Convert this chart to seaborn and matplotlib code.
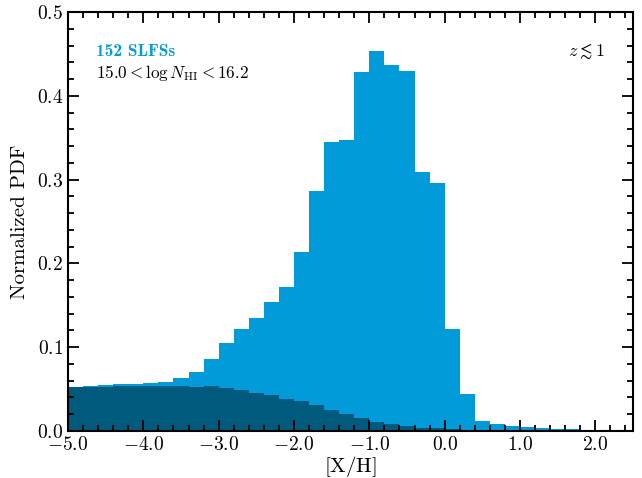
import numpy as np
import pandas as pd
import matplotlib
matplotlib.use("Agg")
import matplotlib.pyplot as plt
import seaborn as sns
from matplotlib.ticker import MultipleLocator, FixedLocator

# bin edges (width 0.2) from -5.0
bin_left = [round(-5.0 + 0.2 * i, 1) for i in range(38)]

# light blue: all SLFS metallicity PDF
pdf_all = [0.053, 0.054, 0.055, 0.056, 0.056, 0.057, 0.059, 0.063, 0.070, 0.086,
           0.105, 0.122, 0.135, 0.154, 0.172, 0.214, 0.286, 0.345, 0.347, 0.428,
           0.454, 0.437, 0.429, 0.309, 0.296, 0.122, 0.044, 0.012, 0.008, 0.006,
           0.0044, 0.0032, 0.0024, 0.0018, 0.0012, 0.0008, 0.0005, 0.0003]

# dark: prior / second distribution
pdf_dark = [0.052, 0.053, 0.053, 0.0533, 0.0537, 0.0537, 0.0537, 0.054, 0.053, 0.0537,
            0.0513, 0.049, 0.045, 0.043, 0.038, 0.0354, 0.031, 0.025, 0.020, 0.015,
            0.011, 0.008, 0.006, 0.004, 0.003, 0.002, 0.001, 0.0005, 0.0003, 0.0002,
            0.0001, 0.0, 0.0, 0.0, 0.0, 0.0, 0.0, 0.0]

xticks = [-5.0, -4.0, -3.0, -2.0, -1.0, 0.0, 1.0, 2.0]
yticks = [0.0, 0.1, 0.2, 0.3, 0.4, 0.5]

plt.rcParams['mathtext.fontset'] = 'cm'
plt.rcParams['font.family'] = 'serif'
plt.rcParams['font.serif'] = ['cmr10', 'DejaVu Serif']
plt.rcParams['axes.unicode_minus'] = False
plt.rcParams['axes.formatter.use_mathtext'] = True

fig = plt.figure(figsize=(6.42, 4.78), dpi=100)
ax = fig.add_axes([68/642, 47/478, 565/642, 419/478])

centers = np.round(np.array(bin_left) + 0.1, 2)
df = pd.DataFrame({'x': centers, 'all': pdf_all, 'dark': pdf_dark})

blue = '#009BD8'
dark = '#005A7E'
nb = len(bin_left)
brange = (bin_left[0], bin_left[-1] + 0.2)
sns.histplot(data=df, x='x', weights='all', bins=nb, binrange=brange, stat='count',
             element='bars', fill=True, color=blue, alpha=1, linewidth=0, ax=ax)
sns.histplot(data=df, x='x', weights='dark', bins=nb, binrange=brange, stat='count',
             element='bars', fill=True, color=dark, alpha=1, linewidth=0, ax=ax)

ax.set_xlim(-5.0, 2.5)
ax.set_ylim(0, 0.5)
ax.xaxis.set_major_locator(FixedLocator(xticks))
ax.yaxis.set_major_locator(FixedLocator(yticks))
ax.set_xticklabels([r'$%.1f$' % v for v in xticks], fontsize=14)
ax.set_yticklabels([r'$%.1f$' % v for v in yticks], fontsize=14)
ax.xaxis.set_minor_locator(MultipleLocator(0.2))
ax.yaxis.set_minor_locator(MultipleLocator(0.02))
ax.tick_params(which='both', direction='in', top=True, right=True, width=1.3, colors='black')
ax.tick_params(which='major', length=8)
ax.tick_params(which='minor', length=4)
for s in ax.spines.values():
    s.set_linewidth(1.5)

ax.set_xlabel(r'$[\mathrm{X/H}]$', fontsize=15, labelpad=0)
ax.set_ylabel('Normalized PDF', fontsize=15, labelpad=6)

ax.text(0.05, 0.905, '152 SLFSs', transform=ax.transAxes, family='cmb10',
        color=blue, fontsize=12.5, ha='left', va='center')
ax.text(0.05, 0.855, r'$15.0 < \log N_{\mathrm{HI}} < 16.2$', transform=ax.transAxes,
        color='black', fontsize=12.3, ha='left', va='center')
ax.text(0.95, 0.905, r'$z \lesssim 1$', transform=ax.transAxes,
        color='black', fontsize=13, ha='right', va='center')

fig.savefig('out.png', dpi=100)
